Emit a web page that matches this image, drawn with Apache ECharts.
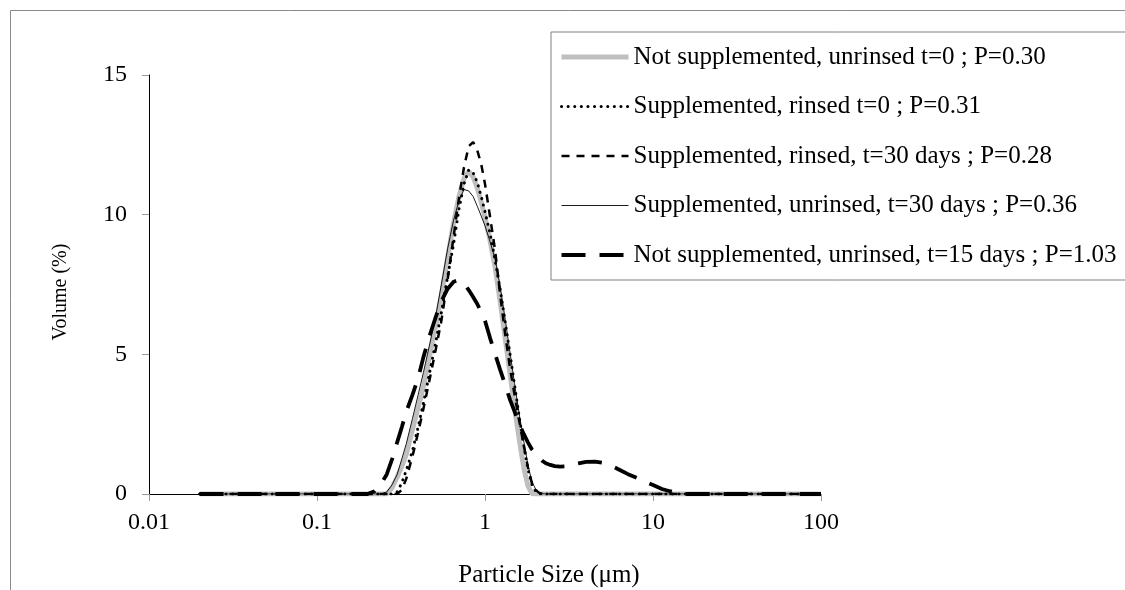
<!DOCTYPE html>
<html>
<head>
<meta charset="utf-8">
<script src="https://cdn.jsdelivr.net/npm/echarts@6/dist/echarts.min.js"></script>
<style>
html,body{margin:0;padding:0;background:#fff;}
#chart{width:1125px;height:590px;}
</style>
</head>
<body>
<div id="chart"></div>
<script>
// Particle sizes (µm)
const sizes = [0.02, 0.05, 0.1, 0.15, 0.2, 0.22, 0.24, 0.26, 0.28, 0.3, 0.32, 0.34, 0.37, 0.4, 0.43, 0.47, 0.51, 0.55, 0.6, 0.65, 0.7, 0.75, 0.8, 0.85, 0.9, 0.95, 1.0, 1.07, 1.15, 1.23, 1.32, 1.41, 1.5, 1.6, 1.7, 1.8, 1.9, 2.0, 2.1, 2.2, 2.3, 2.45, 2.6, 2.8, 3.0, 3.3, 3.6, 4.0, 4.5, 5.0, 5.6, 6.3, 7.1, 8.0, 9.0, 10, 11.3, 12.6, 14, 16, 20, 30, 50, 100];

const seriesNames = [
  'Not supplemented, unrinsed t=0 ; P=0.30',
  'Supplemented, rinsed t=0 ; P=0.31',
  'Supplemented, rinsed, t=30 days ; P=0.28',
  'Supplemented, unrinsed, t=30 days ; P=0.36',
  'Not supplemented, unrinsed, t=15 days ; P=1.03'
];

const notSuppUnrinsedT0 = [0,0,0,0,0,0,0, 0, 0.23, 0.6, 1.0, 1.42, 2.3, 3.1, 3.84, 5.0, 6.07, 7.13, 8.48, 9.7, 10.65, 11.3, 11.55, 11.35, 10.95, 10.45, 9.9, 9.1, 8.1, 6.9, 5.55, 4.3, 3.1, 1.95, 0.95, 0.3, 0.02, 0,0,0,0,0,0,0,0,0,0,0,0,0,0,0,0,0,0,0,0,0,0,0,0,0,0,0];

const suppRinsedT0 = [0,0,0,0,0,0,0,0, 0, 0.08, 0.4, 0.85, 1.54, 2.4, 3.25, 4.4, 5.45, 6.5, 7.8, 8.95, 10.2, 11.1, 11.6, 11.5, 11.15, 10.65, 10.1, 9.35, 8.35, 7.35, 6.15, 5.0, 3.9, 2.75, 1.75, 0.9, 0.35, 0.1, 0.02, 0,0,0,0,0,0,0,0,0,0,0,0,0,0,0,0,0,0,0,0,0,0,0,0,0];

const suppRinsedT30 = [0,0,0,0,0,0,0,0,0,0, 0.15, 0.55, 1.35, 2.2, 3.05, 4.15, 5.2, 6.2, 7.7, 9.2, 10.6, 11.7, 12.45, 12.6, 12.3, 11.8, 11.1, 9.95, 8.7, 7.15, 5.7, 4.5, 3.55, 2.6, 1.75, 0.95, 0.4, 0.15, 0.04, 0,0,0,0,0,0,0,0,0,0,0,0,0,0,0,0,0,0,0,0,0,0,0,0,0];

const suppUnrinsedT30 = [0,0,0,0,0,0,0, 0.07, 0.33, 0.7, 1.26, 1.8, 2.7, 3.55, 4.35, 5.4, 6.4, 7.5, 8.8, 9.8, 10.5, 10.9, 10.85, 10.65, 10.3, 9.95, 9.6, 9.05, 8.4, 7.45, 6.25, 5.05, 3.95, 2.85, 1.9, 1.05, 0.45, 0.18, 0.06, 0.01, 0,0,0,0,0,0,0,0,0,0,0,0,0,0,0,0,0,0,0,0,0,0,0,0];

const notSuppUnrinsedT15 = [0, 0, 0, 0, 0, 0.1, 0.35, 0.7, 1.25, 1.85, 2.4, 2.95, 3.55, 4.15, 4.9, 5.7, 6.35, 6.9, 7.35, 7.6, 7.66, 7.55, 7.3, 7.05, 6.8, 6.5, 6.2, 5.6, 5.0, 4.45, 3.9, 3.37, 2.95, 2.5, 2.15, 1.85, 1.6, 1.45, 1.3, 1.18, 1.1, 1.04, 1.0, 0.98, 0.99, 1.05, 1.1, 1.15, 1.16, 1.12, 1.02, 0.87, 0.71, 0.58, 0.44, 0.32, 0.18, 0.1, 0.05, 0, 0, 0, 0, 0];

const xTickLabels = ['0.01', '0.1', '1', '10', '100'];

const zip = (vals) => sizes.map((s, i) => [s, vals[i]]);
const FONT = 'Liberation Serif';

const chart = echarts.init(document.getElementById('chart'), null, {renderer: 'canvas'});

const baseLine = {type: 'line', showSymbol: false, symbol: 'none', smooth: false, animation: false, z: 3};

chart.setOption({
  backgroundColor: '#ffffff',
  animation: false,
  grid: {left: 149, top: 75, right: 304, bottom: 96, containLabel: false},
  xAxis: {
    type: 'log', logBase: 10, min: 0.01, max: 100,
    axisLine: {show: true, lineStyle: {color: '#000', width: 1}},
    axisTick: {show: true, length: 7, lineStyle: {color: '#999'}},
    splitLine: {show: false},
    axisLabel: {
      color: '#000', fontFamily: FONT, fontSize: 24, margin: 17,
      formatter: (v) => xTickLabels[Math.round(Math.log10(v)) + 2]
    }
  },
  yAxis: {
    type: 'value', min: 0, max: 15, interval: 5,
    axisLine: {show: true, lineStyle: {color: '#000', width: 1}},
    axisTick: {show: true, length: 7, lineStyle: {color: '#999'}},
    splitLine: {show: false},
    axisLabel: {color: '#000', fontFamily: FONT, fontSize: 24, margin: 22}
  },
  legend: {
    orient: 'vertical', left: 551, top: 32,
    padding: [10, 12, 10, 8],
    itemWidth: 67, itemHeight: 20, itemGap: 19.5,
    backgroundColor: '#fff', borderColor: '#808080', borderWidth: 1,
    itemStyle: {opacity: 0},
    lineStyle: {width: 'inherit', type: 'inherit', cap: 'inherit'},
    textStyle: {color: '#000', fontFamily: FONT, fontSize: 25, lineHeight: 30},
    data: seriesNames
  },
  graphic: [
    {type: 'rect', left: 8, top: 8, silent: true, z: -1,
     shape: {width: 1300, height: 800}, style: {fill: 'none', stroke: '#8a8a8a', lineWidth: 1}},
    {type: 'text', x: 549, y: 575, silent: true,
     style: {text: 'Particle Size (\u03bcm)', font: '25px "Liberation Serif"', fill: '#000', textAlign: 'center', textVerticalAlign: 'middle'}},
    {type: 'text', x: 61, y: 292, rotation: Math.PI / 2, silent: true,
     style: {text: 'Volume (%)', font: '20px "Liberation Serif"', fill: '#000', textAlign: 'center', textVerticalAlign: 'middle'}}
  ],
  series: [
    Object.assign({}, baseLine, {name: seriesNames[0], data: zip(notSuppUnrinsedT0),
      lineStyle: {color: '#BFBFBF', width: 5}, itemStyle: {color: '#BFBFBF'}}),
    Object.assign({}, baseLine, {name: seriesNames[1], data: zip(suppRinsedT0),
      lineStyle: {color: '#000', width: 3, type: [0.1, 6.5], cap: 'round'}, itemStyle: {color: '#000'}}),
    Object.assign({}, baseLine, {name: seriesNames[2], data: zip(suppRinsedT30),
      lineStyle: {color: '#000', width: 2.5, type: [8, 7]}, itemStyle: {color: '#000'}}),
    Object.assign({}, baseLine, {name: seriesNames[3], data: zip(suppUnrinsedT30),
      lineStyle: {color: '#000', width: 0.9}, itemStyle: {color: '#000'}}),
    Object.assign({}, baseLine, {name: seriesNames[4], data: zip(notSuppUnrinsedT15),
      lineStyle: {color: '#000', width: 3.8, type: [24, 14]}, itemStyle: {color: '#000'}})
  ]
});
</script>
</body>
</html>
